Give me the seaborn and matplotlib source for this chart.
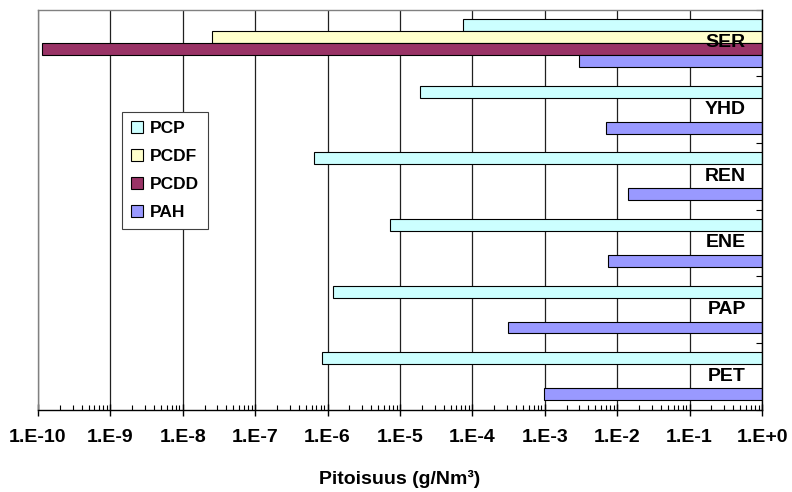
import numpy as np
import pandas as pd
import matplotlib
matplotlib.use("Agg")
import matplotlib.pyplot as plt
from matplotlib.patches import Patch
from matplotlib.ticker import LogLocator, NullFormatter
from matplotlib.font_manager import FontProperties
import matplotlib.transforms as mtransforms
import seaborn as sns

# ---------------- data ----------------
categories = ["SER", "YHD", "REN", "ENE", "PAP", "PET"]
series = ["PCP", "PCDF", "PCDD", "PAH"]
pcp = [7.3e-5, 1.9e-5, 6.5e-7, 7.3e-6, 1.17e-6, 8.3e-7]
pcdf = [2.5e-8, None, None, None, None, None]
pcdd = [1.15e-10, None, None, None, None, None]
pah = [3.0e-3, 6.9e-3, 1.4e-2, 7.5e-3, 3.1e-4, 9.8e-4]
xtick_values = [1e-10, 1e-9, 1e-8, 1e-7, 1e-6, 1e-5, 1e-4, 1e-3, 1e-2, 1e-1, 1e0]
xtick_labels = ["1.E-10", "1.E-9", "1.E-8", "1.E-7", "1.E-6", "1.E-5",
                "1.E-4", "1.E-3", "1.E-2", "1.E-1", "1.E+0"]
xlabel = "Pitoisuus (g/Nm³)"
colors = ["#CCFFFF", "#FFFFCC", "#993366", "#9999FF"]

rows = []
for name, vals in zip(series, [pcp, pcdf, pcdd, pah]):
    for cat, v in zip(categories, vals):
        if v is not None:
            rows.append({"cat": cat, "series": name, "value": v})
df = pd.DataFrame(rows)

# ---------------- style ----------------
sns.set_style("white")
plt.rcParams["font.family"] = ["Liberation Sans", "DejaVu Sans"]
plt.rcParams["font.weight"] = "bold"
for key in ["text.color", "axes.labelcolor", "xtick.color", "ytick.color"]:
    plt.rcParams[key] = "black"

fig = plt.figure(figsize=(7.92, 4.92), dpi=100)
ax = fig.add_axes([38 / 792, 1 - 409.5 / 492, 724 / 792, 400 / 492])

sns.barplot(data=df, x="value", y="cat", hue="series", order=categories,
            hue_order=series, palette=colors, saturation=1, width=0.72,
            orient="h", log_scale=True, legend=False, ax=ax,
            edgecolor="black", linewidth=0.8, errorbar=None)

xmin, xmax = xtick_values[0], xtick_values[-1]
# bars run from the value to the right-hand axis (axis crosses at maximum)
for rect in ax.patches:
    v = rect.get_width()
    if np.isfinite(v) and v > 0:
        rect.set_x(v)
        rect.set_width(xmax - v)

ax.set_xlim(xmin, xmax)
ax.set_ylim(len(categories) - 0.5, -0.5)

# x axis
ax.set_xticks(xtick_values)
ax.set_xticklabels(xtick_labels)
ax.xaxis.set_minor_locator(LogLocator(base=10, subs=np.arange(2, 10), numticks=100))
ax.xaxis.set_minor_formatter(NullFormatter())
ax.tick_params(axis="x", which="major", direction="inout", length=8.5, width=1,
               color="black", labelsize=14, pad=10, bottom=True, top=False,
               labelcolor="black")
ax.tick_params(axis="x", which="minor", direction="in", length=3.4, width=0.8,
               color="black", bottom=True, top=False)
for t in ax.get_xticklabels():
    t.set_fontweight("bold")
ax.set_xlabel(xlabel, fontsize=14, fontweight="bold", labelpad=17, color="black")
ax.set_ylabel("")

# y axis on right; category labels drawn inside, above the bars
ax.yaxis.set_ticks_position("right")
ax.set_yticks(np.arange(-0.5, len(categories), 1), minor=True)
ax.tick_params(axis="y", which="major", length=0, labelright=False, labelleft=False)
ax.tick_params(axis="y", which="minor", direction="in", length=4.3, width=0.8,
               color="black", right=True, left=False)
trans = mtransforms.blended_transform_factory(ax.transAxes, ax.transData)
for i, cat in enumerate(categories):
    ax.text(1 - 16 / 724, i, cat, transform=trans, ha="right", va="center",
            fontsize=14, fontweight="bold", color="black", zorder=10)

# grid
ax.grid(True, axis="x", which="major", color="#202020", linewidth=0.9)
ax.grid(False, axis="y")
ax.set_axisbelow(True)

for side in ["top", "left"]:
    ax.spines[side].set_color("#808080")
    ax.spines[side].set_linewidth(1)
for side in ["right", "bottom"]:
    ax.spines[side].set_color("black")
    ax.spines[side].set_linewidth(1)
    ax.spines[side].set_zorder(5)

# legend
handles = [Patch(facecolor=c, edgecolor="black", linewidth=0.8) for c in colors]
leg_font = FontProperties(family=["Liberation Sans"], weight="bold", size=12.5)
leg = ax.legend(handles, series, loc="upper left", bbox_to_anchor=(0.116, 0.744),
                frameon=True, fancybox=False, edgecolor="#404040", framealpha=1,
                prop=leg_font, handlelength=0.7,
                handleheight=0.7, handletextpad=0.4, labelspacing=0.75,
                borderpad=0.5, borderaxespad=0)
leg.get_frame().set_linewidth(0.8)
for t in leg.get_texts():
    t.set_color("black")

fig.savefig("out.png", dpi=100)
